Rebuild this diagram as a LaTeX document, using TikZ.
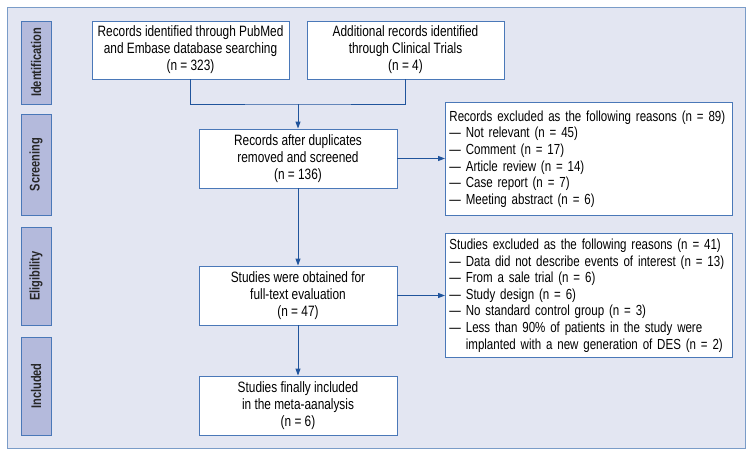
\documentclass[tikz,border=0pt]{standalone}
\usepackage{fontspec}
\setmainfont[FakeStretch=0.79]{Liberation Sans}
\usepackage{tikz}
\usetikzlibrary{arrows.meta,positioning}
\usepackage{xcolor}
\definecolor{framebg}  {RGB}{227,230,242}
\definecolor{frameline}{RGB}{122,156,200}
\definecolor{sidefill} {RGB}{180,186,220}
\definecolor{boxline}  {RGB}{74 ,120,184}
\definecolor{flowblue} {RGB}{32 , 84,156}

\begin{document}
\begin{tikzpicture}[
  x=1pt, y=-1pt,
  every node/.style={font=\fontsize{15}{17}\selectfont, align=center, text=black},
  box/.style={draw=boxline, fill=white, line width=0.9pt, inner sep=0pt, minimum width=197pt, minimum height=58pt},
  listbox/.style={draw=boxline, fill=white, line width=0.9pt, align=left, anchor=north west, inner xsep=4pt, inner ysep=5pt, minimum width=287pt, text width=279pt, font=\fontsize{14.6}{16.6}\selectfont},
  phase/.style={draw=boxline, fill=sidefill, line width=0.9pt, rotate=90, minimum height=30pt, inner sep=0pt, font=\bfseries\fontsize{14}{15}\selectfont, text=black!85},
  arrow/.style={-{Triangle[length=7pt,width=5pt]}, line width=1pt, flowblue}
]
  \useasboundingbox (0,0) rectangle (754,456);
  \fill[framebg, draw=frameline, line width=1pt] (7,7) rectangle (745,448);

  % Phases
  \node (ident) [phase, minimum width=83pt] at (36,62.5) {Identification};
  \node (scrn) [phase, minimum width=101pt] at (36,164.5) {Screening};
  \node (elgb) [phase, minimum width=98pt] at (36,276) {Eligibility};
  \node (incd) [phase, minimum width=98pt] at (36,386) {Included};

  % Nodes
  \node (pubmed) [box] at (190.5,50) {Records identified through PubMed\\and Embase database searching\\(n = 323)};
  \node (trials) [box] at (405.5,50) {Additional records identified\\through Clinical Trials\\(n = 4)};
  \node (screened) [box, minimum width=198pt, minimum height=59pt] at (298,158.5) {Records after duplicates\\removed and screened\\(n = 136)};
  \node (fulltext) [box, minimum width=198pt, minimum height=59pt] at (298,295.5) {Studies were obtained for\\full-text evaluation\\(n = 47)};
  \node (included) [box, minimum width=198pt, minimum height=59pt] at (298,405.5) {Studies finally included\\in the meta-aanalysis\\(n = 6)};

  \node (excl1) [listbox, minimum height=113pt] at (445,102) {Records excluded as the following reasons (n = 89)\\
    — Not relevant (n = 45)\\
    — Comment (n = 17)\\
    — Article review (n = 14)\\
    — Case report (n = 7)\\
    — Meeting abstract (n = 6)};
  \node (excl2) [listbox, minimum height=124pt] at (445,233) {Studies excluded as the following reasons (n = 41)\\
    — Data did not describe events of interest (n = 13)\\
    — From a sale trial (n = 6)\\
    — Study design (n = 6)\\
    — No standard control group (n = 3)\\
    — Less than 90\% of patients in the study were\\
    \phantom{— }implanted with a new generation of DES (n = 2)};

  \coordinate (join) at (298,104);

  % Paths
  \draw [flowblue, line width=1pt] (pubmed.south) |- (join) -| (trials.south);
  \draw [arrow] (join) -- (screened.north);
  \draw [arrow] (screened.east) -- (screened.east -| excl1.west);
  \draw [arrow] (screened) -- (fulltext);
  \draw [arrow] (fulltext.east) -- (fulltext.east -| excl2.west);
  \draw [arrow] (fulltext) -- (included);
\end{tikzpicture}
\end{document}
